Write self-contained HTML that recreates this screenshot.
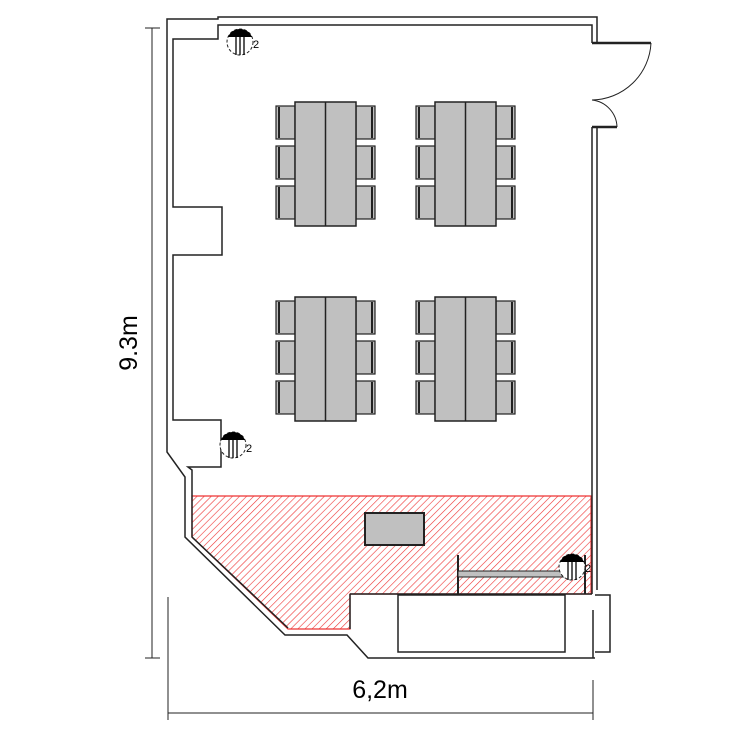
<!DOCTYPE html><html><head><style>body{margin:0;background:#fff}svg{display:block}</style></head><body>
<svg width="750" height="750" viewBox="0 0 750 750" xmlns="http://www.w3.org/2000/svg">
<defs>
<pattern id="h" patternUnits="userSpaceOnUse" width="5" height="5" patternTransform="rotate(45)">
<line x1="0" y1="0" x2="0" y2="5" stroke="#e33" stroke-width="1.2"/></pattern>
<g id="chair"><rect x="0" y="0" width="19" height="33" fill="#c0c0c0" stroke="#222" stroke-width="1.2"/><line x1="3" y1="1" x2="3" y2="32" stroke="#222" stroke-width="2"/></g>
<g id="tbl">
<use href="#chair" x="-19" y="4"/><use href="#chair" x="-19" y="44"/><use href="#chair" x="-19" y="84"/>
<g transform="translate(61,0) scale(-1,1)"><use href="#chair" x="-19" y="4"/><use href="#chair" x="-19" y="44"/><use href="#chair" x="-19" y="84"/></g>
<rect x="0" y="0" width="61" height="124" fill="#c0c0c0" stroke="#222" stroke-width="1.5"/>
<line x1="30.5" y1="0" x2="30.5" y2="124" stroke="#222" stroke-width="1.5"/>
</g>
<g id="proj"><circle cx="0" cy="0" r="13" fill="#fff" stroke="#222" stroke-dasharray="3 2"/><path d="M-12,-5 A13,13 0 0 1 12,-5 Z" fill="#000"/><line x1="-4" y1="-5" x2="-4" y2="13" stroke="#000" stroke-width="1.3"/><line x1="0" y1="-5" x2="0" y2="13" stroke="#000" stroke-width="1.3"/><line x1="4" y1="-5" x2="4" y2="13" stroke="#000" stroke-width="1.3"/></g>
</defs>
<polygon points="192,496 591,496 591,594 350,594 350,629 288,629 192,537" fill="url(#h)" stroke="#e33" stroke-width="1.2"/>
<g fill="none" stroke="#222" stroke-width="1.5">
<polyline points="597,43 597,17 218,17 218,19 167,19 167,452 185,477 185,537 285,635 347,635 368,658 595,658"/>
<polyline points="592,43 592,25 218,25 218,39 173,39 173,207 222,207 222,255 173,255 173,420 221,420 221,467 188,467 192,470 192,537 288,628"/>
<polyline points="592,127 592,594"/>
<polyline points="597,127 597,590"/>
<line x1="592" y1="43" x2="651" y2="43" stroke-width="2.5"/>
<line x1="592" y1="127" x2="617" y2="127" stroke-width="2.5"/>
<path d="M651,43 A60,60 0 0 1 592,100" stroke-width="1"/>
<path d="M592,100 A28,28 0 0 1 617,127" stroke-width="1"/>
<polyline points="350,594 592,594"/>
<polyline points="350,594 350,629"/>
<rect x="398" y="595" width="167" height="57"/>
<polyline points="595,595 610,595 610,652 595,652"/>
<line x1="593" y1="610" x2="593" y2="658"/>
<line x1="168" y1="597" x2="168" y2="720" stroke-width="1"/>
<line x1="593" y1="680" x2="593" y2="720" stroke-width="1"/>
<line x1="168" y1="713" x2="593" y2="713" stroke-width="1"/>
<line x1="152" y1="28" x2="152" y2="658" stroke-width="1"/>
<line x1="145" y1="28" x2="160" y2="28" stroke-width="1"/>
<line x1="145" y1="658" x2="160" y2="658" stroke-width="1"/>
<line x1="458" y1="555" x2="458" y2="594" stroke-width="2"/>
<line x1="585" y1="555" x2="585" y2="594" stroke-width="2"/>
</g>
<rect x="458" y="571" width="107" height="6" fill="#c0c0c0" stroke="#222"/>
<rect x="365" y="513" width="59" height="32" fill="#c0c0c0" stroke="#222" stroke-width="2"/>
<use href="#tbl" x="295" y="102"/><use href="#tbl" x="435" y="102"/>
<use href="#tbl" x="295" y="297"/><use href="#tbl" x="435" y="297"/>
<use href="#proj" x="240" y="42"/><use href="#proj" x="233" y="445"/><use href="#proj" x="572" y="567"/>
<g font-family="Liberation Sans, sans-serif" font-size="11" fill="#000"><text x="253" y="48">2</text><text x="246" y="452">2</text><text x="585" y="572">2</text></g>
<text x="380" y="698" font-family="Liberation Sans, sans-serif" font-size="25" text-anchor="middle">6,2m</text>
<text transform="translate(137,343) rotate(-90)" font-family="Liberation Sans, sans-serif" font-size="25" text-anchor="middle">9.3m</text>
</svg></body></html>
